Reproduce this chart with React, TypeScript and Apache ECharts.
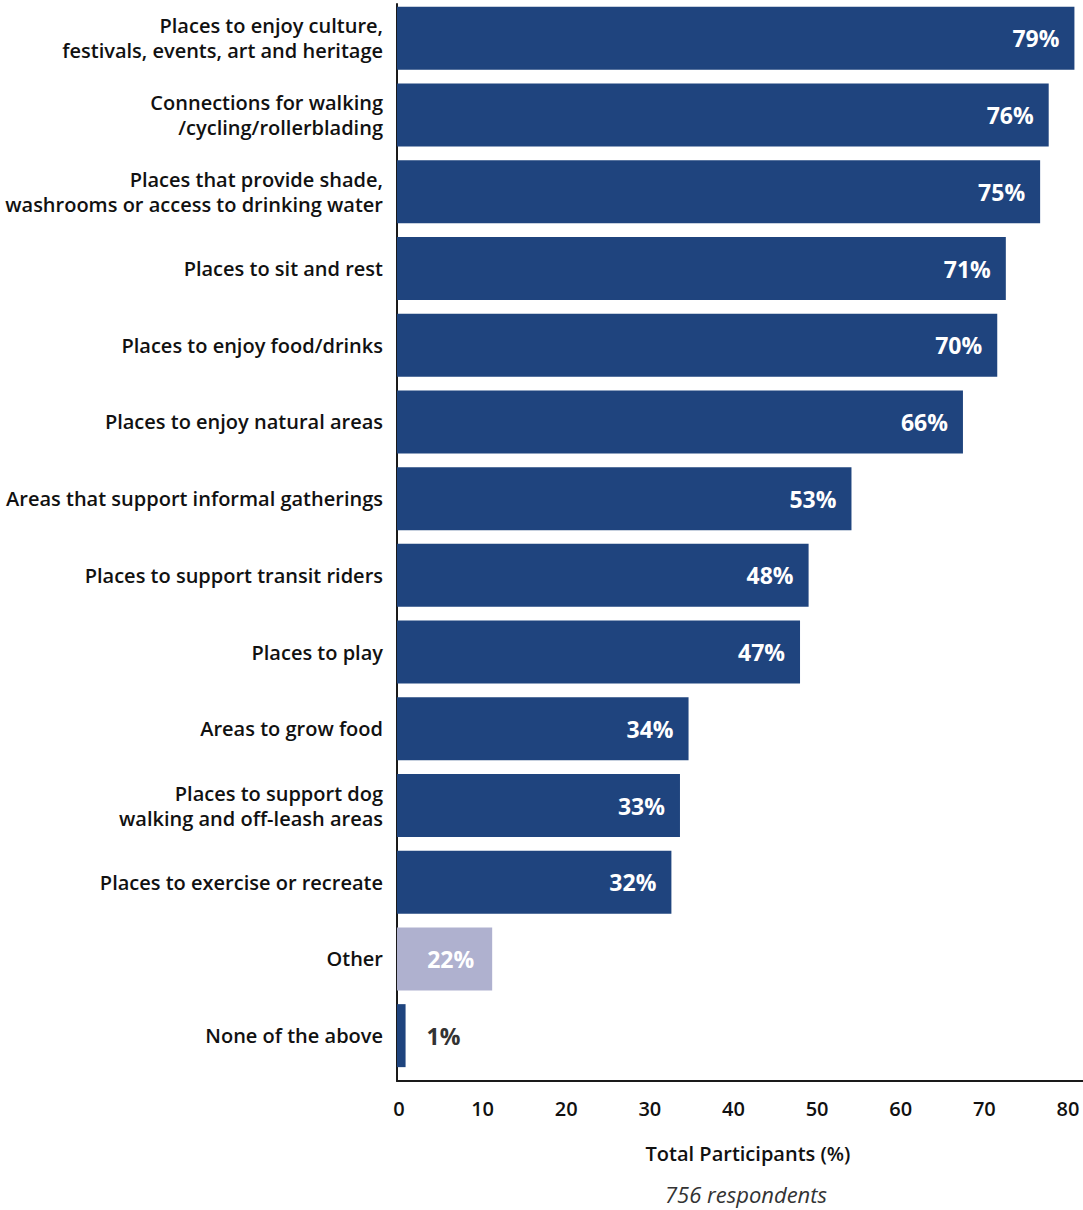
import React, { useEffect, useRef } from "react";
import * as echarts from "echarts";

const categories = [
  "Places to enjoy culture,\nfestivals, events, art and heritage",
  "Connections for walking\n/cycling/rollerblading",
  "Places that provide shade,\nwashrooms or access to drinking water",
  "Places to sit and rest",
  "Places to enjoy food/drinks",
  "Places to enjoy natural areas",
  "Areas that support informal gatherings",
  "Places to support transit riders",
  "Places to play",
  "Areas to grow food",
  "Places to support dog\nwalking and off-leash areas",
  "Places to exercise or recreate",
  "Other",
  "None of the above",
];
// percentages shown on the bars
const labelValues = [79, 76, 75, 71, 70, 66, 53, 48, 47, 34, 33, 32, 22, 1];
// bar lengths as drawn in the reference (the "Other" bar is drawn shorter than its label)
const barValues = [79, 76, 75, 71, 70, 66, 53, 48, 47, 34, 33, 32, 11.1, 1];
const xTicks = [0, 10, 20, 30, 40, 50, 60, 70, 80];
const axisTitle = "Total Participants (%)";
const footnote = "756 respondents";

const DARK = "#1f447e";
const LIGHT = "#afb1cf";
const FONT = "'Open Sans', Lato, sans-serif";

export default function App() {
  const ref = useRef<HTMLDivElement>(null);
  useEffect(() => {
    if (!ref.current) return;
    const chart = echarts.init(ref.current, null, { renderer: "svg" });
    const data = barValues.map((v, i) => {
      const isOther = categories[i] === "Other";
      const isSmall = v < 5;
      return {
        value: v,
        itemStyle: { color: isOther ? LIGHT : DARK },
        label: {
          show: true,
          formatter: labelValues[i] + "%",
          position: isSmall ? "right" : "insideRight",
          distance: isSmall ? 21 : isOther ? 18 : 15,
          color: isSmall ? "#333333" : "#ffffff",
          fontFamily: FONT,
          fontWeight: "bold",
          fontSize: 23,
        },
      };
    });
    chart.setOption({
      animation: false,
      grid: [
        { left: 397, width: 686, top: -3, height: 1077, containLabel: false },
        { left: 397, width: 686, top: 4, height: 1077, containLabel: false },
        { left: 399, width: 669, top: 4, height: 1077, containLabel: false },
      ],
      xAxis: [
        { gridIndex: 0, type: "value", min: 0, max: 80, show: false },
        {
          gridIndex: 1,
          type: "value",
          min: 0,
          max: 80,
          axisLine: { show: true, lineStyle: { color: "#1a1a1a", width: 2 } },
          axisTick: { show: false },
          axisLabel: { show: false },
          splitLine: { show: false },
        },
        {
          gridIndex: 2,
          type: "value",
          min: xTicks[0],
          max: xTicks[xTicks.length - 1],
          interval: 10,
          axisLine: { show: false },
          axisTick: { show: false },
          splitLine: { show: false },
          axisLabel: {
            show: true,
            margin: 17,
            fontSize: 20,
            fontWeight: 600,
            color: "#111111",
            fontFamily: FONT,
          },
        },
      ],
      yAxis: [
        {
          gridIndex: 0,
          type: "category",
          inverse: true,
          data: categories,
          axisLine: { show: false },
          axisTick: { show: false },
          axisLabel: {
            margin: 14,
            fontSize: 20,
            fontWeight: 600,
            lineHeight: 25,
            color: "#111111",
            fontFamily: FONT,
            align: "right",
          },
        },
        {
          gridIndex: 1,
          type: "value",
          min: 0,
          max: 1,
          axisLine: { show: true, lineStyle: { color: "#1a1a1a", width: 2 } },
          axisTick: { show: false },
          axisLabel: { show: false },
          splitLine: { show: false },
        },
        {
          gridIndex: 2,
          type: "value",
          min: 0,
          max: 1,
          show: false,
        },
      ],
      series: [
        {
          type: "bar",
          xAxisIndex: 0,
          yAxisIndex: 0,
          barWidth: 63,
          data,
        },
      ],
      graphic: [
        {
          type: "text",
          x: 748,
          y: 1153,
          style: {
            text: axisTitle,
            fontSize: 20,
            fontWeight: 600,
            fontFamily: FONT,
            fill: "#111111",
            align: "center",
            verticalAlign: "middle",
          },
        },
        {
          type: "text",
          x: 746,
          y: 1194,
          style: {
            text: footnote,
            fontSize: 22,
            fontStyle: "italic",
            fontFamily: FONT,
            fill: "#333333",
            align: "center",
            verticalAlign: "middle",
          },
        },
      ],
    });
    return () => chart.dispose();
  }, []);
  return <div ref={ref} style={{ width: 1083, height: 1210, position: "absolute", left: 0, top: 0 }} />;
}
